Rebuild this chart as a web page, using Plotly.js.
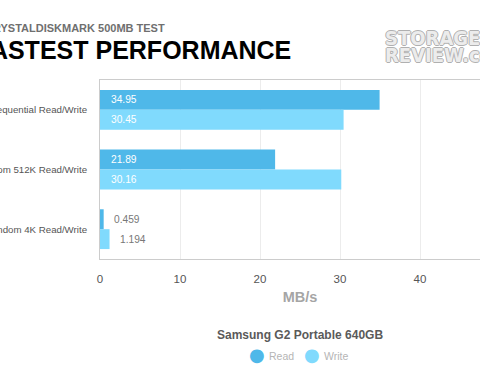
<!DOCTYPE html>
<html>
<head>
<meta charset="utf-8">
<script src="https://cdn.plot.ly/plotly-3.0.1.min.js"></script>
<style>
html,body{margin:0;padding:0;background:#fff;}
#wrap{position:relative;width:480px;height:380px;overflow:hidden;}
#chart{position:absolute;left:-100px;top:0;width:620px;height:380px;}
</style>
</head>
<body>
<div id="wrap"><div id="chart"></div></div>
<script>
const categories = ["Sequential Read/Write", "Random 512K Read/Write", "Random 4K Read/Write"];
const readValues = [34.95, 21.89, 0.459];
const writeValues = [30.45, 30.16, 1.194];
const readLabels = ["34.95", "21.89", "0.459"];
const writeLabels = ["30.45", "30.16", "1.194"];
const xTicks = [0, 10, 20, 30, 40, 50];
const seriesNames = ["Read", "Write"];
const seriesColors = ["#4fb8e9", "#80dafd"];
const chartTitle = "FASTEST PERFORMANCE";
const chartSubtitle = "CRYSTALDISKMARK 500MB TEST";
const legendTitle = "Samsung G2 Portable 640GB";
const xTitle = "MB/s";

const FONT = "Liberation Sans, Arial, Helvetica, sans-serif";

const traces = [
  {type: "bar", orientation: "h", name: seriesNames[0], y: categories, x: readValues,
   marker: {color: seriesColors[0]}, showlegend: false, hoverinfo: "none"},
  {type: "bar", orientation: "h", name: seriesNames[1], y: categories, x: writeValues,
   marker: {color: seriesColors[1]}, showlegend: false, hoverinfo: "none"}
];

const annotations = [];
function addLabels(vals, labels, shift) {
  vals.forEach((v, i) => {
    const inside = v > 5;
    annotations.push({
      xref: "x", yref: "y", x: inside ? 0 : v, y: categories[i],
      xanchor: "left", yanchor: "middle", xshift: inside ? 9 : 8, yshift: shift,
      text: labels[i], showarrow: false,
      font: {family: FONT, size: 10.2, color: inside ? "#ffffff" : "#777777"}
    });
  });
}
addLabels(readValues, readLabels, 10);
addLabels(writeValues, writeLabels, -10);

annotations.push({
  xref: "paper", yref: "paper", x: 0.4825, y: 1.165, xanchor: "right", yanchor: "middle",
  text: "<b>" + chartTitle + "</b>", showarrow: false,
  font: {family: FONT, size: 25, color: "#000000"}
});
annotations.push({
  xref: "paper", yref: "paper", x: 0.1675, y: 1.29, xanchor: "right", yanchor: "middle",
  text: "<b>" + chartSubtitle + "</b>", showarrow: false,
  font: {family: FONT, size: 11, color: "#6f6f6f"}
});
// watermark logo
const logoFont = {family: "DejaVu Sans Condensed, DejaVu Sans, sans-serif", size: 20, color: "#ececec",
  shadow: "1px 0 0 #b0b0b0, -1px 0 0 #b0b0b0, 0 1px 0 #b0b0b0, 0 -1px 0 #b0b0b0"};
annotations.push({
  xref: "paper", yref: "paper", x: 0.708, y: 1.235, xanchor: "left", yanchor: "middle",
  text: "<b>STORAGE</b>", showarrow: false, font: logoFont
});
annotations.push({
  xref: "paper", yref: "paper", x: 0.708, y: 1.14, xanchor: "left", yanchor: "middle",
  text: "<b>REVIEW.com</b>", showarrow: false, font: logoFont
});

// legend (title + entries)
annotations.push({
  xref: "paper", yref: "paper", x: 0.5, y: -0.424, xanchor: "center", yanchor: "middle",
  text: "<b>" + legendTitle + "</b>", showarrow: false,
  font: {family: FONT, size: 12, color: "#5a5a5a"}
});
const legendX = [0.3925, 0.53];
seriesNames.forEach((nm, k) => {
  annotations.push({
    xref: "paper", yref: "paper", x: legendX[k], y: -0.535, xanchor: "center", yanchor: "middle",
    text: "●", showarrow: false,
    font: {family: "DejaVu Sans, sans-serif", size: 18, color: seriesColors[k]}
  });
  annotations.push({
    xref: "paper", yref: "paper", x: legendX[k] + 0.025, y: -0.542, xanchor: "left", yanchor: "middle",
    text: nm, showarrow: false,
    font: {family: FONT, size: 10.5, color: "#b5b5b5"}
  });
});

const layout = {
  width: 620, height: 380,
  margin: {l: 200, r: 20, t: 80, b: 121},
  paper_bgcolor: "#ffffff", plot_bgcolor: "#ffffff",
  barmode: "group", bargap: 0.333, bargroupgap: 0,
  font: {family: FONT, color: "#555555"},
  showlegend: false,
  xaxis: {
    range: [0, 50], tickvals: xTicks, ticktext: xTicks.map(String),
    showgrid: true, gridcolor: "#ececec", gridwidth: 1, zeroline: false,
    showline: true, mirror: true, linecolor: "#cccccc", linewidth: 1,
    ticks: "", ticklabelstandoff: 9,
    tickfont: {family: FONT, size: 11.5, color: "#555555"},
    title: {text: "<b>" + xTitle + "</b>", standoff: 8, font: {family: FONT, size: 14.5, color: "#a5a5a5"}},
    fixedrange: true
  },
  yaxis: {
    type: "category", autorange: "reversed",
    showgrid: false, zeroline: false,
    showline: true, mirror: true, linecolor: "#cccccc", linewidth: 1,
    ticks: "", ticklabelstandoff: 10,
    tickfont: {family: FONT, size: 9.7, color: "#555555"},
    fixedrange: true
  },
  annotations: annotations
};

Plotly.newPlot("chart", traces, layout, {displayModeBar: false, staticPlot: true});
</script>
</body>
</html>
